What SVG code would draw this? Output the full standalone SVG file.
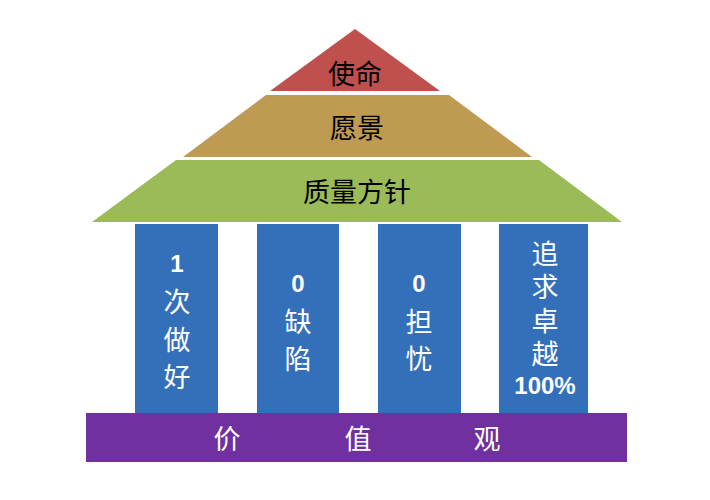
<svg xmlns="http://www.w3.org/2000/svg" width="710" height="500" viewBox="0 0 710 500">
<style>
.lbl{font-family:"Noto Sans CJK SC","Noto Sans",sans-serif;font-size:27px;fill:#000;text-anchor:middle;dominant-baseline:central}
.cj{font-family:"Noto Sans CJK SC","Noto Sans",sans-serif;font-size:27px;fill:#fff;text-anchor:middle;dominant-baseline:central}
.num{font-family:"Liberation Sans","Noto Sans",sans-serif;font-size:24px;font-weight:bold;fill:#fff;text-anchor:middle;dominant-baseline:central}
.pillar{fill:#3470BA}
</style>
<rect width="710" height="500" fill="#fff"/>
<g id="mission">
<polygon points="355,29 440,91 270,91" fill="#C0504D"/>
<text class="lbl" x="355" y="72">使命</text>
</g>
<g id="vision">
<polygon points="266,95 449,95 532,157 183,157" fill="#BE9A52"/>
<text class="lbl" x="357" y="126">愿景</text>
</g>
<g id="policy">
<polygon points="176,160 539,160 622,222 92,222" fill="#9BBB59"/>
<text class="lbl" x="357" y="190">质量方针</text>
</g>
<g id="pillar1">
<rect class="pillar" x="135" y="224" width="83" height="189"/>
<text class="num" x="177" y="263">1</text>
<text class="cj" x="177" y="300">次</text>
<text class="cj" x="177" y="338">做</text>
<text class="cj" x="177" y="375">好</text>
</g>
<g id="pillar2">
<rect class="pillar" x="257" y="224" width="82" height="189"/>
<text class="num" x="298" y="283">0</text>
<text class="cj" x="298" y="320">缺</text>
<text class="cj" x="298" y="357">陷</text>
</g>
<g id="pillar3">
<rect class="pillar" x="378" y="224" width="83" height="189"/>
<text class="num" x="419" y="283">0</text>
<text class="cj" x="419" y="320">担</text>
<text class="cj" x="419" y="357">忧</text>
</g>
<g id="pillar4">
<rect class="pillar" x="499" y="224" width="89" height="189"/>
<text class="cj" x="545" y="252">追</text>
<text class="cj" x="545" y="285">求</text>
<text class="cj" x="545" y="319">卓</text>
<text class="cj" x="545" y="352">越</text>
<text class="num" x="545" y="385">100%</text>
</g>
<g id="values">
<rect x="86" y="413" width="541" height="49" fill="#7030A0"/>
<text class="cj" x="227" y="437">价</text>
<text class="cj" x="358" y="437">值</text>
<text class="cj" x="487" y="437">观</text>
</g>
<g id="connectors"></g>
</svg>
